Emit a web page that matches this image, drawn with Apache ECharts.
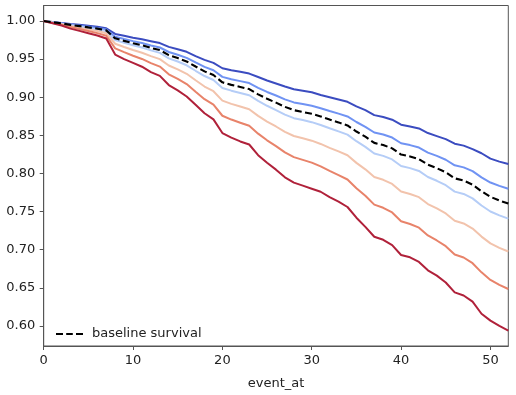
<!DOCTYPE html>
<html>
<head>
<meta charset="utf-8">
<script src="https://cdn.jsdelivr.net/npm/echarts@6/dist/echarts.min.js"></script>
<style>html,body{margin:0;padding:0;background:#fff}#c{width:516px;height:395px}</style>
</head>
<body>
<div id="c"></div>
<script>
const times = Array.from({length: 53}, (_, i) => i);
const yTickLabels = [0.60, 0.65, 0.70, 0.75, 0.80, 0.85, 0.90, 0.95, 1.00];
const xTickLabels = [0, 10, 20, 30, 40, 50];

const darkBlue = [1.000,.9987,.9975,.9962,.9950,.9937,.9924,.9905,.9830,.9805,
  .9780,.9760,.9735,.9710,.9660,.9630,.9596,.9540,.9490,.9450,
  .9380,.9355,.9335,.9310,.9265,.9220,.9180,.9140,.9105,.9085,
  .9065,.9030,.9000,.8970,.8940,.8880,.8830,.8765,.8740,.8705,
  .8640,.8615,.8590,.8530,.8490,.8450,.8390,.8365,.8320,.8265,
  .8195,.8155,.8123];
const medBlue = [1,.9985,.9971,.9954,.9939,.9924,.9909,.9888,.9792,.9763,
  .9736,.9711,.9679,.9652,.9593,.9557,.9516,.9456,.9398,.9354,
  .9267,.9236,.9211,.9186,.9123,.9069,.9022,.8972,.8932,.8910,
  .8887,.8856,.8819,.8785,.8748,.8675,.8612,.8537,.8511,.8471,
  .8396,.8372,.8340,.8273,.8230,.8180,.8107,.8080,.8030,.7949,
  .7881,.7837,.7799];
const baseline = [1,.99835,.9968,.9949,.9933,.9916,.9900,.9877,.9772,.9739,
  .9709,.9682,.9647,.9618,.9552,.9513,.9469,.9403,.9339,.9291,
  .9195,.9162,.9135,.9107,.9038,.8980,.8929,.8874,.8830,.8806,
  .8782,.8748,.8708,.8670,.8630,.8550,.8482,.8401,.8373,.8329,
  .8248,.8223,.8188,.8116,.8069,.8015,.7936,.7907,.7853,.7766,
  .7693,.7645,.7605];
const lightBlue = [1,.9982,.9965,.9944,.9927,.9908,.9890,.9865,.9750,.9715,
  .9682,.9652,.9614,.9582,.9510,.9468,.9419,.9347,.9278,.9226,
  .9121,.9086,.9056,.9026,.8951,.8888,.8832,.8772,.8725,.8700,
  .8673,.8636,.8593,.8552,.8509,.8423,.8349,.8262,.8231,.8184,
  .8097,.8070,.8033,.7954,.7904,.7846,.7762,.7731,.7673,.7580,
  .7501,.7450,.7407];
const peach = [1,.9978,.9958,.9933,.9912,.9890,.9868,.9838,.9701,.9659,
  .9620,.9584,.9539,.9500,.9416,.9365,.9307,.9222,.9140,.9079,
  .8955,.8913,.8878,.8843,.8755,.8681,.8616,.8546,.8491,.8461,
  .8430,.8387,.8336,.8289,.8239,.8139,.8054,.7953,.7917,.7863,
  .7763,.7731,.7689,.7599,.7541,.7475,.7379,.7344,.7277,.7172,
  .7083,.7025,.6976];
const salmon = [1,.9974,.9950,.9920,.9895,.9868,.9841,.9806,.9641,.9591,
  .9544,.9502,.9448,.9402,.9301,.9241,.9172,.9071,.8974,.8902,
  .8757,.8707,.8666,.8625,.8522,.8435,.8359,.8277,.8214,.8178,
  .8142,.8092,.8034,.7979,.7921,.7806,.7707,.7591,.7550,.7489,
  .7373,.7337,.7289,.7187,.7121,.7046,.6937,.6898,.6823,.6703,
  .6604,.6539,.6485];
const red = [1,.997,.994,.990,.987,.984,.981,.977,.956,.950,
  .945,.940,.933,.928,.916,.909,.901,.890,.879,.871,
  .853,.847,.842,.838,.824,.814,.805,.795,.788,.784,
  .780,.776,.769,.763,.756,.742,.730,.717,.713,.706,
  .693,.690,.684,.673,.666,.657,.644,.640,.632,.616,
  .607,.600,.594];

const effectSeries = [
  {name: 'e0', data: darkBlue, color: '#3b4cc0'},
  {name: 'e1', data: medBlue, color: '#7093f3'},
  {name: 'e2', data: lightBlue, color: '#b5cdf7'},
  {name: 'e3', data: peach, color: '#f2c3ac'},
  {name: 'e4', data: salmon, color: '#e8836a'},
  {name: 'e5', data: red, color: '#b0213a'}
];

const pair = arr => times.map((t, i) => [t, arr[i]]);
const font = '"DejaVu Sans", sans-serif';
const axisColor = '#555';
const series = effectSeries.map(s => ({
  name: s.name, type: 'line', data: pair(s.data), symbol: 'none',
  lineStyle: {color: s.color, width: 2}, itemStyle: {color: s.color},
  silent: true
}));
series.push({
  name: 'baseline survival', type: 'line', data: pair(baseline), symbol: 'none',
  lineStyle: {color: '#000', width: 2.1, type: [7, 3.4]}, itemStyle: {color: '#000'},
  silent: true
});

const chart = echarts.init(document.getElementById('c'), null, {renderer: 'canvas'});
chart.setOption({
  animation: false,
  backgroundColor: '#fff',
  grid: {left: 43.7, right: 7.7, top: 5.5, bottom: 42.7, show: true, borderColor: axisColor, borderWidth: 1},
  legend: {
    data: ['baseline survival'], left: 56, top: 327, orient: 'vertical', padding: 0,
    icon: 'path://M0,0h7v2h-7z M10.2,0h6.6v2h-6.6z M20,0h7v2h-7z',
    itemWidth: 27, itemHeight: 14, itemGap: 8,
    itemStyle: {color: '#000'},
    textStyle: {fontFamily: font, fontSize: 13, lineHeight: 14, color: '#222', padding: [0, 0, 0, 4]}
  },
  xAxis: {
    type: 'value', min: 0, max: 52,
    name: 'event_at', nameLocation: 'middle', nameGap: 31,
    nameTextStyle: {fontFamily: font, fontSize: 13, color: '#222'},
    axisLine: {show: true, lineStyle: {color: axisColor, width: 1}},
    axisTick: {show: true, length: 4, customValues: xTickLabels, lineStyle: {color: axisColor}},
    axisLabel: {customValues: xTickLabels, margin: 8, fontFamily: font, fontSize: 13, color: '#222'},
    splitLine: {show: false}
  },
  yAxis: {
    type: 'value', min: 0.5737, max: 1.0203,
    axisLine: {show: true, lineStyle: {color: axisColor, width: 1}},
    axisTick: {show: true, length: 4, customValues: yTickLabels, lineStyle: {color: axisColor}},
    axisLabel: {customValues: yTickLabels, margin: 8.5, fontFamily: font, fontSize: 13, color: '#222',
      formatter: v => Number(v).toFixed(2)},
    splitLine: {show: false}
  },
  series: series
});
</script>
</body>
</html>
